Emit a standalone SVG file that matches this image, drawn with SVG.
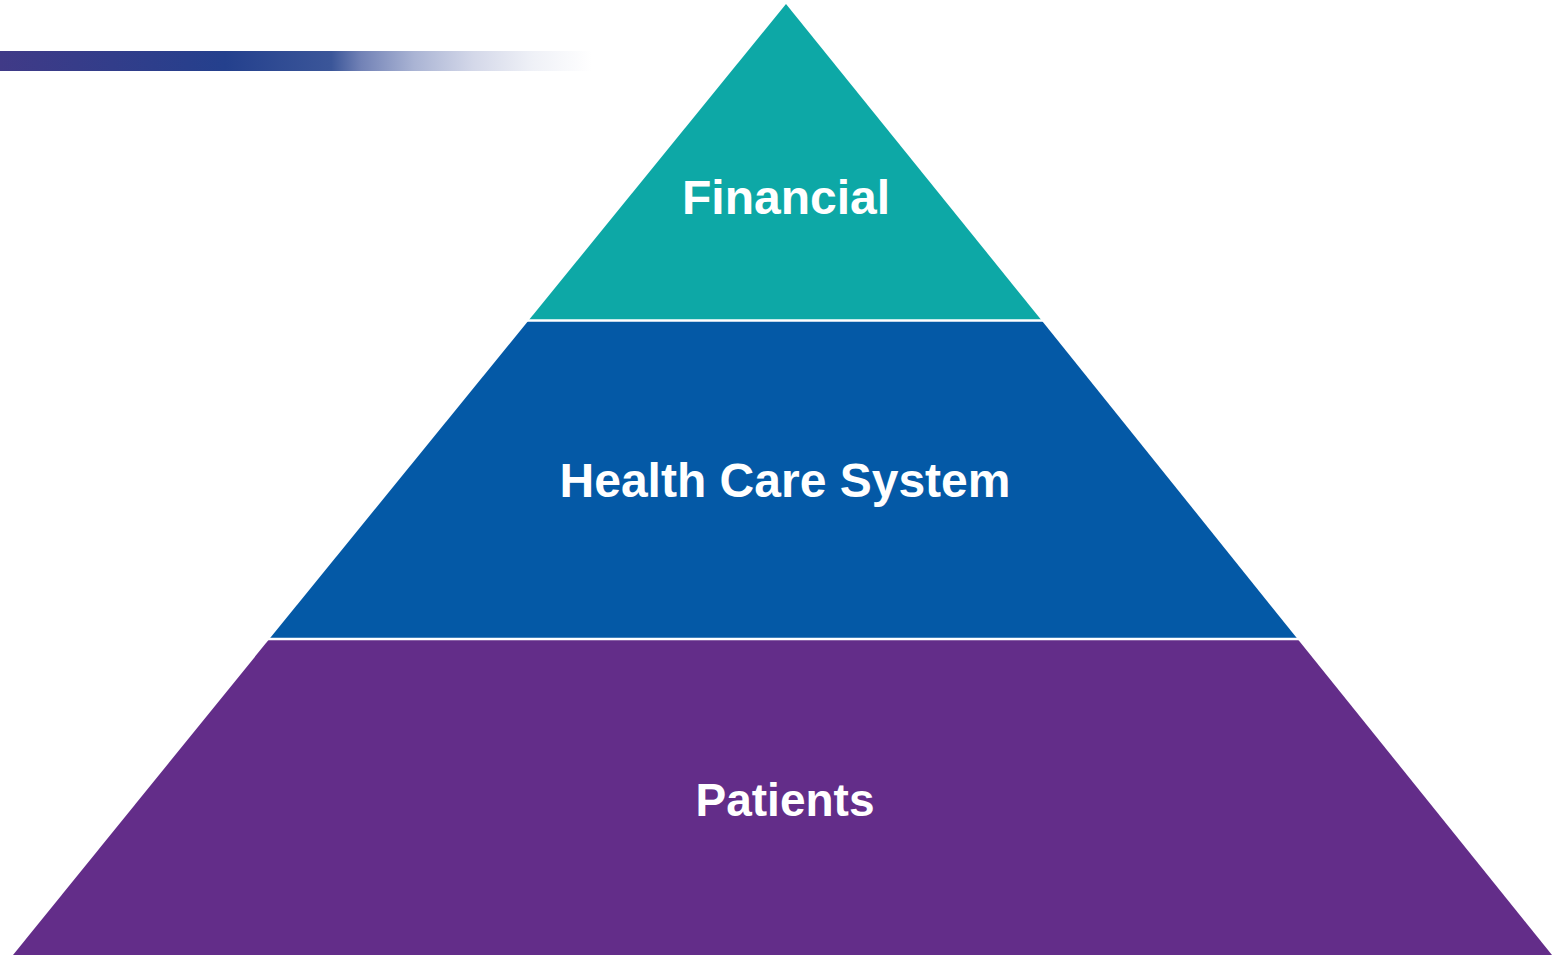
<svg xmlns="http://www.w3.org/2000/svg" width="1552" height="955" viewBox="0 0 1552 955">
  <style>
    .lbl { font-family: "Liberation Sans", Arial, sans-serif; font-weight: bold; font-size: 48px; fill: #ffffff; text-anchor: middle; }
    .sep { stroke: #ffffff; stroke-width: 2.5; }
  </style>
  <defs>
    <linearGradient id="bar" x1="0" y1="0" x2="1" y2="0">
      <stop offset="0" stop-color="#403a87"/>
      <stop offset="0.38" stop-color="#24408d"/>
      <stop offset="0.56" stop-color="#3b5699"/>
      <stop offset="0.61" stop-color="#7282b6"/>
      <stop offset="0.7" stop-color="#aab4d4"/>
      <stop offset="0.8" stop-color="#d4d8e9"/>
      <stop offset="0.9" stop-color="#eff1f7"/>
      <stop offset="1" stop-color="#ffffff"/>
    </linearGradient>
  </defs>
  <rect x="0" y="0" width="1552" height="955" fill="#ffffff"/>
  <rect x="0" y="51" width="592" height="20" fill="url(#bar)"/>
  <g id="patients">
    <polygon points="269.3,639 1297.6,639 1552,955 13,955" fill="#632d89"/>
    <text class="lbl" x="785" y="816" style="font-size:46px">Patients</text>
  </g>
  <g id="health-care-system">
    <polygon points="528.5,320.5 1041.7,320.5 1297.6,639 269.3,639" fill="#0459a6"/>
    <text class="lbl" x="785" y="497">Health Care System</text>
  </g>
  <g id="financial">
    <polygon points="786,4 1041.7,320.5 528.5,320.5" fill="#0da8a6"/>
    <text class="lbl" x="786" y="214">Financial</text>
  </g>
  <g id="connectors">
    <line class="sep" x1="500" y1="320.5" x2="1080" y2="320.5"/>
    <line class="sep" x1="240" y1="639" x2="1330" y2="639"/>
  </g>
</svg>
